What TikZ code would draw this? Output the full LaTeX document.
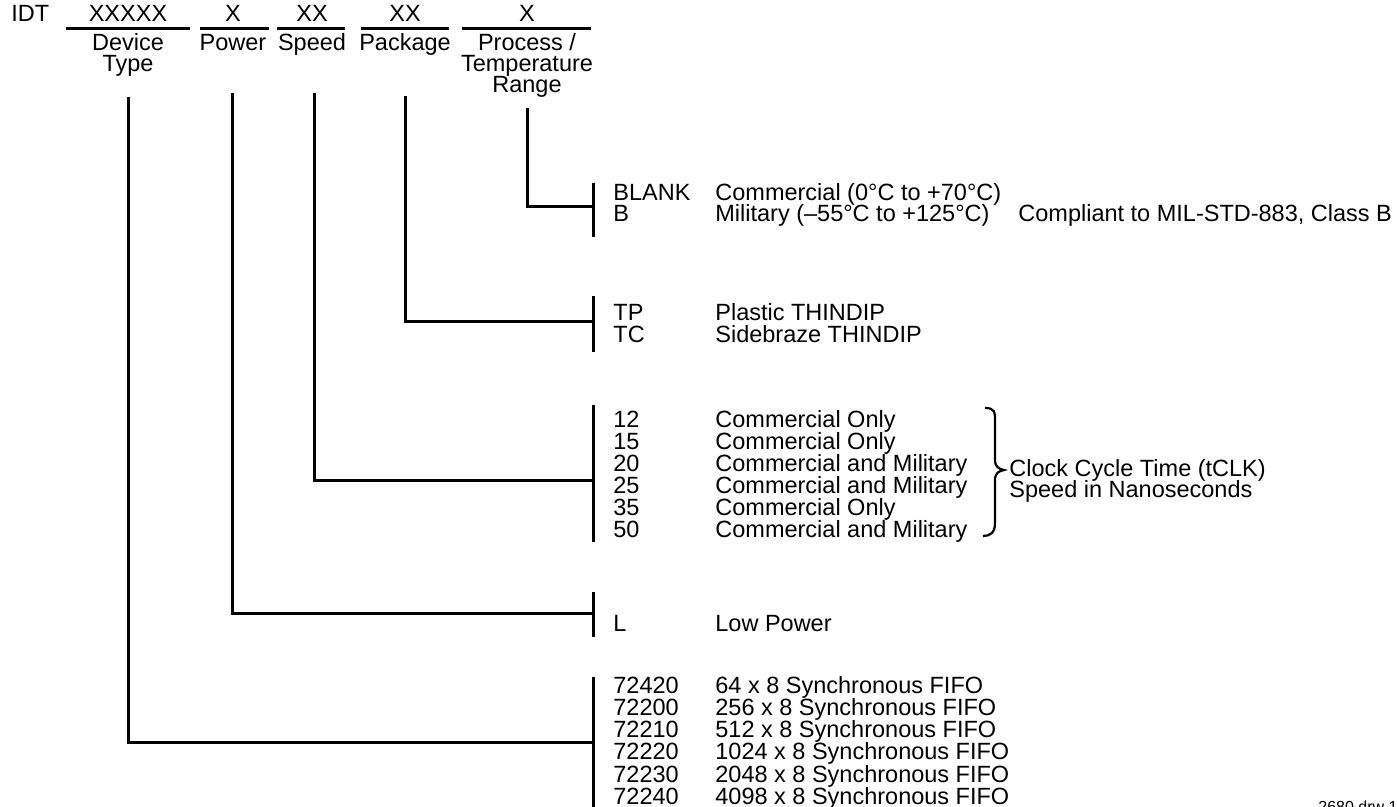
\documentclass[tikz,border=0pt]{standalone}
\usepackage{fontspec}
\setmainfont{Liberation Sans}
\begin{document}
\begin{tikzpicture}[x=0.5pt,y=-0.5pt,
  ln/.style={line width=1.5pt},
  txt/.style={font=\fontsize{11.75}{11}\selectfont, inner sep=0pt, anchor=base west},
  hd/.style={font=\fontsize{11.75}{11}\selectfont, inner sep=0pt, anchor=base},
  small/.style={font=\fontsize{8}{8}\selectfont, inner sep=0pt, anchor=base west}]
\useasboundingbox (0,0) rectangle (1397,807);
% header
\node[txt] (idt) at (11,22) {IDT};
\node[hd] (h1) at (128,22) {XXXXX};
\node[hd] (h1a) at (128,51) {Device};
\node[hd] (h1b) at (128,72) {Type};
\node[hd] (h2) at (233,22) {X};
\node[hd] (h2a) at (233,51) {Power};
\node[hd] (h3) at (312,22) {XX};
\node[hd] (h3a) at (312,51) {Speed};
\node[hd] (h4) at (405,22) {XX};
\node[hd] (h4a) at (405,51) {Package};
\node[hd] (h5) at (527,22) {X};
\node[hd] (h5a) at (527,51) {Process /};
\node[hd] (h5b) at (527,72) {Temperature};
\node[hd] (h5c) at (527,93) {Range};
\draw[ln] (66,29) -- (190,29);
\draw[ln] (200,29) -- (269,29);
\draw[ln] (277,29) -- (345,29);
\draw[ln] (361,29) -- (449,29);
\draw[ln] (462,29) -- (591,29);
% stems
\coordinate (sDev) at (128,97);
\coordinate (sPow) at (232,93);
\coordinate (sSpd) at (314,93);
\coordinate (sPkg) at (405,96);
\coordinate (sPro) at (527,108);
% bars
\coordinate (bProT) at (593,183); \coordinate (bProB) at (593,237); \coordinate (bPro) at (593,207);
\coordinate (bPkgT) at (593,296); \coordinate (bPkgB) at (593,352); \coordinate (bPkg) at (593,322);
\coordinate (bSpdT) at (593,405); \coordinate (bSpdB) at (593,542); \coordinate (bSpd) at (593,480);
\coordinate (bPowT) at (593,592); \coordinate (bPowB) at (593,637); \coordinate (bPow) at (593,613);
\coordinate (bDevT) at (593,677); \coordinate (bDevB) at (593,807); \coordinate (bDev) at (593,742);
\foreach \g in {Pro,Pkg,Spd,Pow,Dev} {
  \draw[ln] (b\g T) -- (b\g B);
  \draw[ln] (s\g) |- (b\g);
}
% process
\node[txt] (pc1) at (613,201) {BLANK};
\node[txt] (pc2) at (613,222) {B};
\node[txt] (pd1) at (715,201) {Commercial (0°C to +70°C)};
\node[txt] (pd2) at (715,222) {Military (–55°C to +125°C)};
\node[txt] (pd3) at (1018,222) {Compliant to MIL-STD-883, Class B};
% package
\node[txt] (kc1) at (613,321) {TP};
\node[txt] (kc2) at (613,343) {TC};
\node[txt] (kd1) at (715,321) {Plastic THINDIP};
\node[txt] (kd2) at (715,343) {Sidebraze THINDIP};
% speed
\foreach \c/\d [count=\i from 0] in {12/Commercial Only,15/Commercial Only,20/Commercial and Military,25/Commercial and Military,35/Commercial Only,50/Commercial and Military} {
  \node[txt] (sc\i) at (613,428+21.8*\i) {\c};
  \node[txt] (sd\i) at (715,428+21.8*\i) {\d};
}
\draw[line width=1.1pt] (985,408) .. controls (995,408) and (995,412) .. (995,422) -- (995,460)
  .. controls (995,467) and (999,469) .. (1004,470)
  .. controls (999,471) and (995,473) .. (995,480) -- (995,523)
  .. controls (995,533) and (990,536) .. (983,536);
\node[txt] (cc1) at (1009,476) {Clock Cycle Time (tCLK)};
\node[txt] (cc2) at (1009,497) {Speed in Nanoseconds};
% power
\node[txt] (wc1) at (613,631) {L};
\node[txt] (wd1) at (715,631) {Low Power};
% device
\foreach \c/\d [count=\i from 0] in {72420/64 x 8 Synchronous FIFO,72200/256 x 8 Synchronous FIFO,72210/512 x 8 Synchronous FIFO,72220/1024 x 8 Synchronous FIFO,72230/2048 x 8 Synchronous FIFO,72240/4098 x 8 Synchronous FIFO} {
  \node[txt] (dc\i) at (613,693+22.3*\i) {\c};
  \node[txt] (dd\i) at (715,693+22.3*\i) {\d};
}
\node[small] (drw) at (1318,812) {2680 drw 13};
\end{tikzpicture}
\end{document}
